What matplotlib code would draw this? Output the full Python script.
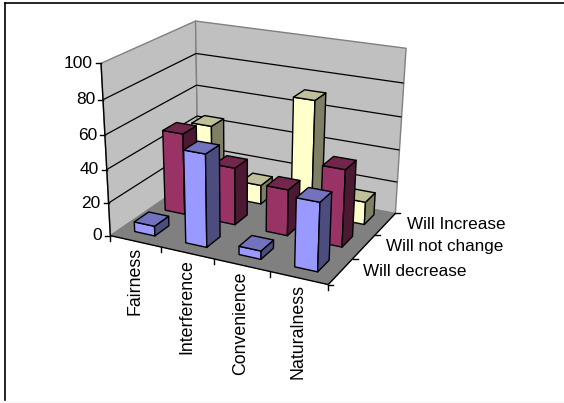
import numpy as np
import matplotlib
matplotlib.use("Agg")
import matplotlib.pyplot as plt
from matplotlib.patches import Polygon

plt.rcParams['font.family'] = ['Liberation Sans', 'DejaVu Sans']

categories = ["Fairness", "Interference", "Convenience", "Naturalness"]
series_names = ["Will decrease", "Will not change", "Will Increase"]
will_decrease = [6, 55, 5, 40]
will_not_change = [50, 35, 28, 46]
will_increase = [44, 12, 70, 14]
y_ticks = [0, 20, 40, 60, 80, 100]

W, H = 564, 403
fig = plt.figure(figsize=(W / 100, H / 100), dpi=100)
ax = fig.add_axes([0, 0, 1, 1])
ax.set_xlim(0, W)
ax.set_ylim(H, 0)
ax.axis('off')

# scene (category, series depth, value) -> pixel, a projective camera fitted to the box corners
nc, ns = len(categories), len(series_names)
corners = [((0, 0, 0), (110, 234)), ((nc, 0, 0), (328, 285)),
           ((0, ns, 0), (198, 178)), ((nc, ns, 0), (396, 212)),
           ((0, 0, 100), (101, 61)), ((0, ns, 100), (196, 22)),
           ((nc, ns, 100), (405, 46)), ((nc, 0, 100), (336, 103))]
A, b = [], []
for (x, y, z), (u, v) in corners:
    A.append([x, y, z, 1, 0, 0, 0, 0, -u * x, -u * y, -u * z]); b.append(u)
    A.append([0, 0, 0, 0, x, y, z, 1, -v * x, -v * y, -v * z]); b.append(v)
P = np.append(np.linalg.lstsq(np.array(A, float), np.array(b, float), rcond=None)[0], 1).reshape(3, 4)


def pr(x, y, z):
    q = P @ np.array([x, y, z, 1.0])
    return q[0] / q[2], q[1] / q[2]


def face(pts, fc, ec='black', lw=1.0, z=2):
    ax.add_patch(Polygon([pr(*p) for p in pts], closed=True, facecolor=fc, edgecolor=ec,
                         linewidth=lw, joinstyle='round', zorder=z))


def line(p, q, color='black', lw=0.9, z=1.5):
    a, c = pr(*p), pr(*q)
    ax.plot([a[0], c[0]], [a[1], c[1]], color=color, lw=lw, solid_capstyle='butt', zorder=z)


# walls and floor
WALL, FLOOR, EDGE = '#C0C0C0', '#808080', '#808080'
face([(0, 0, 0), (0, ns, 0), (0, ns, 100), (0, 0, 100)], WALL, EDGE, 1.0, 1)
face([(0, ns, 0), (nc, ns, 0), (nc, ns, 100), (0, ns, 100)], WALL, EDGE, 1.0, 1)
face([(0, 0, 0), (nc, 0, 0), (nc, ns, 0), (0, ns, 0)], FLOOR, FLOOR, 0.5, 1.2)

# gridlines
for t in y_ticks[1:-1]:
    line((0, 0, t), (0, ns, t), lw=0.9)
    line((0, ns, t), (nc, ns, t), lw=0.9)

# axes lines and ticks
line((0, 0, 0), (0, 0, 100), lw=1.0, z=1.6)
line((0, 0, 0), (nc, 0, 0), lw=1.0, z=1.6)
line((nc, 0, 0), (nc, ns, 0), lw=1.0, z=1.6)
for t in y_ticks:
    u, v = pr(0, 0, t)
    ax.plot([u - 5, u], [v, v], color='black', lw=1.0, zorder=1.6)
    ax.text(u - 8, v, str(t), ha='right', va='center', fontsize=12.5, color='black')
for i in range(nc + 1):
    u, v = pr(i, 0, 0)
    ax.plot([u, u], [v, v + 5], color='black', lw=1.0, zorder=1.6)
for j in range(ns + 1):
    u, v = pr(nc, j, 0)
    ax.plot([u, u + 5], [v, v], color='black', lw=1.0, zorder=1.6)

# category labels (rotated), series labels
for i, name in enumerate(categories):
    u, v = pr(i + 0.5, 0, 0)
    ax.text(u - 1, v + 6, name, rotation=90, ha='center', va='top', fontsize=12.8, color='black')
for j, name in enumerate(series_names):
    u, v = pr(nc, j + 0.5, 0)
    ax.text(u + 22, v, name, ha='left', va='center', fontsize=12.3, color='black')

# bars, farthest row first, left to right
styles = [('#9999FF', '#7272BF', '#4C4C7F'),
          ('#993366', '#72264C', '#4C1933'),
          ('#FFFFCC', '#BFBF99', '#7F7F66')]
values = [will_decrease, will_not_change, will_increase]
bw, bd = 0.40, 0.46
for j in reversed(range(ns)):
    front, top, side = styles[j]
    for i in range(nc):
        h = values[j][i]
        x0, x1 = i + 0.48 - bw / 2, i + 0.48 + bw / 2
        y0, y1 = j + 0.55 - bd / 2, j + 0.55 + bd / 2
        zo = 3 + (ns - j) * 10 + i
        face([(x0, y0, 0), (x1, y0, 0), (x1, y0, h), (x0, y0, h)], front, z=zo)
        face([(x1, y0, 0), (x1, y1, 0), (x1, y1, h), (x1, y0, h)], side, z=zo)
        face([(x0, y0, h), (x1, y0, h), (x1, y1, h), (x0, y1, h)], top, z=zo)

# chart frame
ax.plot([5, 5], [2.5, 400], color='black', lw=1.2, zorder=50)
ax.plot([5, W], [2.5, 2.5], color='black', lw=1.2, zorder=50)
ax.plot([0, W], [402.5, 402.5], color='#D8D8D8', lw=1.0, zorder=50)

fig.savefig('out.png', dpi=100)
